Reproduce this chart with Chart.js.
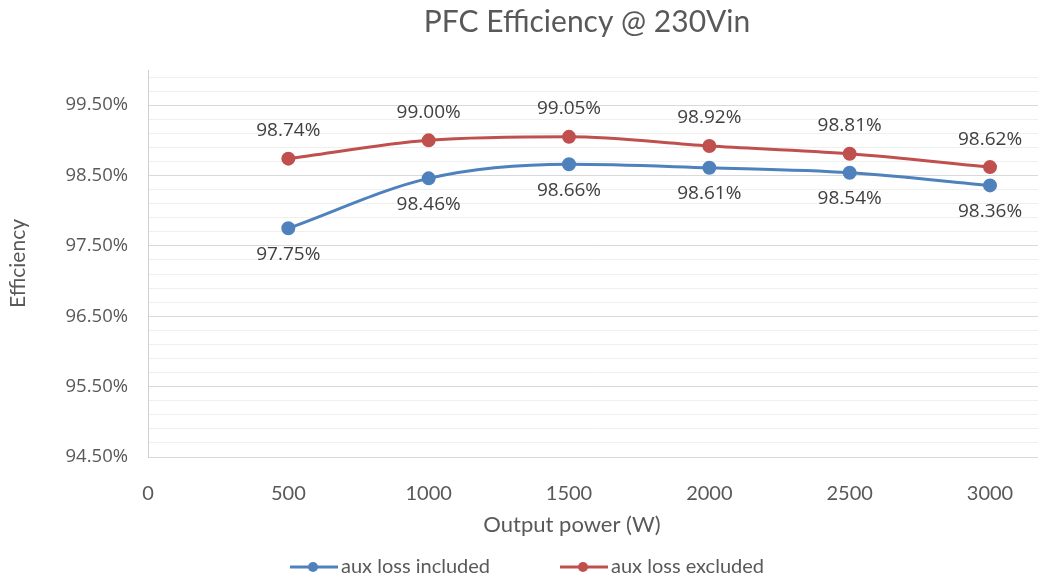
<!DOCTYPE html>
<html><head><meta charset="utf-8">
<script src="https://cdn.jsdelivr.net/npm/chart.js@4"></script>
<style>html,body{margin:0;padding:0;background:#fff}#wrap{width:1038px;height:577px}</style>
</head><body><div id="wrap"><canvas id="c" width="1038" height="577"></canvas></div>
<script>
const outputPower = [500, 1000, 1500, 2000, 2500, 3000];
const auxIncluded = [97.75, 98.46, 98.66, 98.61, 98.54, 98.36];
const auxExcluded = [98.74, 99.00, 99.05, 98.92, 98.81, 98.62];
const xTickValues = [0, 500, 1000, 1500, 2000, 2500, 3000];
const yMajorTicks = [94.5, 95.5, 96.5, 97.5, 98.5, 99.5];
const yMinorStep = 0.2;
const seriesNames = ['aux loss included', 'aux loss excluded'];
const seriesColors = ['#4F81BD', '#C0504D'];
const FONT = "'Open Sans', sans-serif";
const FONT2 = "Lato, sans-serif";

const decorations = {
  id: 'decorations',
  afterDatasetsDraw(chart) {
    const ctx = chart.ctx;
    ctx.save();
    ctx.font = '19px ' + FONT;
    ctx.fillStyle = '#404040';
    ctx.textAlign = 'center';
    ctx.textBaseline = 'middle';
    chart.data.datasets.forEach((ds, di) => {
      const meta = chart.getDatasetMeta(di);
      meta.data.forEach((pt, i) => {
        const off = di === 1 ? -28 : 26;
        ctx.fillText(ds.data[i].y.toFixed(2) + '%', pt.x, pt.y + off);
      });
    });
    ctx.font = '30px ' + FONT2;
    ctx.fillStyle = '#595959';
    ctx.fillText('PFC Efficiency @ 230Vin', 587, 22);
    ctx.font = '22px ' + FONT2;
    ctx.fillText('Output power (W)', 572, 525);
    const items = [{x: 290, name: seriesNames[0], c: seriesColors[0]}, {x: 560, name: seriesNames[1], c: seriesColors[1]}];
    items.forEach(it => {
      ctx.strokeStyle = it.c; ctx.lineWidth = 3;
      ctx.beginPath(); ctx.moveTo(it.x, 567); ctx.lineTo(it.x + 48, 567); ctx.stroke();
      ctx.fillStyle = it.c;
      ctx.beginPath(); ctx.arc(it.x + 23, 567, 5, 0, Math.PI * 2); ctx.fill();
      ctx.fillStyle = '#595959';
      ctx.textAlign = 'left';
      ctx.font = '20px ' + FONT2;
      ctx.fillText(it.name, it.x + 51, 567);
    });
    ctx.restore();
  }
};

function isMajor(v) {
  return yMajorTicks.some(m => Math.abs(m - v) < 1e-6);
}

new Chart(document.getElementById('c'), {
  type: 'line',
  data: {
    datasets: [
      {label: seriesNames[0], data: outputPower.map((x, i) => ({x, y: auxIncluded[i]})),
       borderColor: seriesColors[0], backgroundColor: seriesColors[0], borderWidth: 3,
       pointRadius: 5.5, pointHoverRadius: 5.5, tension: 0.4, cubicInterpolationMode: 'monotone'},
      {label: seriesNames[1], data: outputPower.map((x, i) => ({x, y: auxExcluded[i]})),
       borderColor: seriesColors[1], backgroundColor: seriesColors[1], borderWidth: 3,
       pointRadius: 5.5, pointHoverRadius: 5.5, tension: 0.4, cubicInterpolationMode: 'monotone'}
    ]
  },
  options: {
    responsive: false, animation: false, events: [],
    layout: {autoPadding: false, padding: {top: 70, right: 0, left: 0, bottom: 0}},
    plugins: {legend: {display: false}, title: {display: false}, tooltip: {enabled: false}},
    scales: {
      x: {
        type: 'linear', min: 0, max: 3171,
        afterBuildTicks(s) { s.ticks = xTickValues.map(v => ({value: v})); },
        afterFit(s) { s.height = 120; },
        grid: {display: false},
        border: {display: true, color: '#d9d9d9', width: 1},
        ticks: {padding: 17, color: '#595959', font: {family: FONT2, size: 20}, maxRotation: 0, autoSkip: false,
                callback: v => String(v)}
      },
      y: {
        type: 'linear', min: 94.5, max: 100.0,
        afterBuildTicks(s) {
          const t = [];
          for (let k = 0; k * yMinorStep <= 100.0 - 94.5 - 0.05; k++) t.push({value: +(94.5 + k * yMinorStep).toFixed(2)});
          s.ticks = t;
        },
        afterFit(s) { s.width = 148; },
        grid: {drawTicks: false, color: c => isMajor(c.tick.value) ? '#d9d9d9' : '#efefef', lineWidth: 1},
        border: {display: true, color: '#d0d0d0', width: 1},
        title: {display: true, text: 'Efficiency', color: '#595959', font: {family: FONT2, size: 21}, padding: {top: 6, bottom: 0}},
        ticks: {padding: 20, color: '#595959', font: {family: FONT, size: 18.5}, autoSkip: false,
                callback: v => isMajor(v) ? v.toFixed(2) + '%' : ''}
      }
    }
  },
  plugins: [decorations]
});
</script></body></html>
